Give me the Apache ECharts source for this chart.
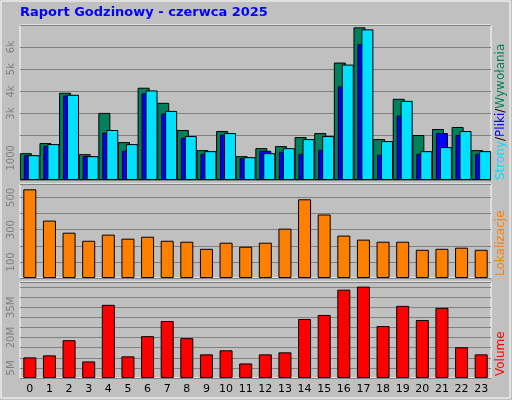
<!DOCTYPE html>
<html><head><meta charset="utf-8">
<script src="https://cdn.jsdelivr.net/npm/echarts@6/dist/echarts.min.js"></script>
<style>html,body{margin:0;padding:0;background:#c0c0c0}#main{width:512px;height:400px}</style>
</head><body><div id="main"></div>
<script>
var hours = ['0','1','2','3','4','5','6','7','8','9','10','11','12','13','14','15','16','17','18','19','20','21','22','23'];
var hits  = [1212,1667,3939,1167,3030,1712,4167,3485,2258,1348,2212,1076,1439,1530,1939,2121,5303,6894,1848,3667,2030,2303,2394,1348];
var files = [1121,1545,3818,1076,2136,1318,3909,3000,1909,1182,2045,985,1318,1273,1182,1364,4227,6136,1136,2909,1182,2121,2030,1182];
var pages = [1121,1621,3848,1076,2258,1621,4045,3121,1985,1303,2121,1030,1212,1439,1848,1985,5212,6803,1758,3576,1303,1485,2212,1303];
var sites = [550,356,281,231,269,244,256,231,225,181,219,194,219,306,488,394,263,238,225,225,175,181,188,175];
var volumeMB = [10.2,11.2,18.7,8.2,36.2,10.7,20.7,28.2,19.7,11.7,13.7,7.2,11.7,12.7,29.2,31.2,43.7,45.2,25.7,35.7,28.7,34.7,15.2,11.7];

var chart = echarts.init(document.getElementById('main'));
var grey = '#808080';
var font = 'DejaVu Sans';
function xAxis(idx, show) {
    return {
        type: 'category', gridIndex: idx, data: hours,
        axisLine: {show: false}, axisTick: {show: false},
        axisLabel: {show: show, color: '#000', fontSize: 11, fontFamily: font, margin: 6}
    };
}
function yAxis(idx, max, interval, fmt) {
    return {
        type: 'value', gridIndex: idx, min: 0, max: max, interval: interval,
        axisLine: {show: false}, axisTick: {show: false},
        splitLine: {lineStyle: {color: '#808080', width: 1}},
        axisLabel: {rotate: 90, color: grey, fontSize: 10, fontFamily: font, margin: 4, formatter: fmt}
    };
}
var barStyle = function (c) { return {color: c, borderColor: '#000', borderWidth: 1}; };

var option = {
    backgroundColor: '#c0c0c0',
    animation: false,
    grid: [
        {left: 20, right: 21, top: 25, height: 155, show: true, backgroundColor: '#c0c0c0', borderColor: '#fff', borderWidth: 1},
        {left: 20, right: 21, top: 184, height: 94, show: true, backgroundColor: '#c0c0c0', borderColor: '#fff', borderWidth: 1},
        {left: 20, right: 21, top: 282, height: 96, show: true, backgroundColor: '#c0c0c0', borderColor: '#fff', borderWidth: 1}
    ],
    xAxis: [xAxis(0, false), xAxis(1, false), xAxis(2, true)],
    yAxis: [
        yAxis(0, 7000, 1000, function (v) { return v === 1000 ? '1000' : (v === 0 || v === 2000 || v === 7000) ? '' : (v / 1000) + 'k'; }),
        yAxis(1, 583, 100, function (v) { return (v === 100 || v === 300 || v === 500) ? String(v) : ''; }),
        yAxis(2, 47.5, 5, function (v) { return (v === 5 || v === 20 || v === 35) ? v + 'M' : ''; })
    ],
    series: [
        {name: 'Wywołania', type: 'bar', xAxisIndex: 0, yAxisIndex: 0, data: hits, barWidth: 12, barGap: '-67%', itemStyle: barStyle('#00805c')},
        {name: 'Pliki', type: 'bar', xAxisIndex: 0, yAxisIndex: 0, data: files, barWidth: 12, barGap: '-67%', itemStyle: barStyle('#0000ff')},
        {name: 'Strony', type: 'bar', xAxisIndex: 0, yAxisIndex: 0, data: pages, barWidth: 12, barGap: '-67%', itemStyle: barStyle('#00e0ff')},
        {name: 'Lokalizacje', type: 'bar', xAxisIndex: 1, yAxisIndex: 1, data: sites, barWidth: 13, itemStyle: barStyle('#ff8000')},
        {name: 'Volume', type: 'bar', xAxisIndex: 2, yAxisIndex: 2, data: volumeMB, barWidth: 13, itemStyle: barStyle('#ff0000')}
    ],
    graphic: [
        {type: 'rect', shape: {x: 1, y: 1, width: 509, height: 397}, style: {fill: 'none', stroke: '#fff', lineWidth: 1}},
        {type: 'text', left: 20, top: 6, style: {text: 'Raport Godzinowy - czerwca 2025', fill: '#0000ff', font: 'bold 13px "DejaVu Sans"'}},
        {type: 'text', x: 495, y: 180, rotation: Math.PI / 2, style: {
            text: '{a|Strony}{s|/}{b|Pliki}{s|/}{c|Wywołania}', font: '12px "DejaVu Sans"',
            rich: {a: {fill: '#00e0ff', font: '12px "DejaVu Sans"'}, s: {fill: '#000', font: '12px "DejaVu Sans"'},
                   b: {fill: '#0000ff', font: '12px "DejaVu Sans"'}, c: {fill: '#00805c', font: '12px "DejaVu Sans"'}}}},
        {type: 'text', x: 495, y: 276, rotation: Math.PI / 2, style: {text: 'Lokalizacje', fill: '#ff8000', font: '12px "DejaVu Sans"'}},
        {type: 'text', x: 495, y: 376, rotation: Math.PI / 2, style: {text: 'Volume', fill: '#ff0000', font: '12px "DejaVu Sans"'}}
    ]
};
chart.setOption(option);
</script></body></html>
